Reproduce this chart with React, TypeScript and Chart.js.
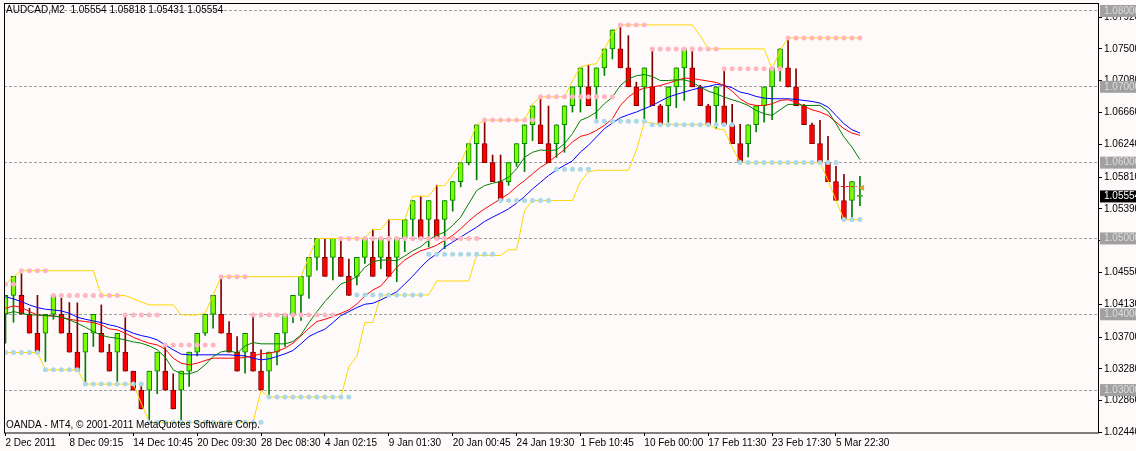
import { useEffect, useRef } from "react";
import { Chart, registerables } from "chart.js";

Chart.register(...registerables);

// bar-axis labels (every 8th bar)
const timeLabels = [
  "2 Dec 2011", "8 Dec 09:15", "14 Dec 10:45", "20 Dec 09:30", "28 Dec 08:30",
  "4 Jan 02:15", "9 Jan 01:30", "20 Jan 00:45", "24 Jan 19:30", "1 Feb 10:45",
  "10 Feb 00:00", "17 Feb 11:30", "23 Feb 17:30", "5 Mar 22:30",
];
const timeLabelBars = [0, 8, 16, 24, 32, 40, 48, 56, 64, 72, 80, 88, 96, 104];

const opens = [
  1.04, 1.0425, 1.0425, 1.04, 1.0375, 1.0375, 1.04, 1.04, 1.0375, 1.035,
  1.035, 1.0375, 1.0375, 1.035, 1.035, 1.035, 1.0325, 1.03, 1.03, 1.0325,
  1.0325, 1.03, 1.03, 1.0325, 1.035, 1.0375, 1.04, 1.04, 1.0375, 1.035,
  1.035, 1.035, 1.0325, 1.0325, 1.035, 1.0375, 1.04, 1.0425, 1.045, 1.0475,
  1.0475, 1.0475, 1.0475, 1.045, 1.045, 1.0475, 1.0475, 1.0475, 1.0475, 1.0475,
  1.05, 1.0525, 1.0525, 1.0525, 1.0525, 1.0525, 1.055, 1.0575, 1.06, 1.0625,
  1.0625, 1.06, 1.0575, 1.0575, 1.06, 1.0625, 1.065, 1.065, 1.0625, 1.0625,
  1.065, 1.0675, 1.07, 1.07, 1.07, 1.0725, 1.075, 1.075, 1.0725, 1.07,
  1.07, 1.07, 1.0675, 1.0675, 1.07, 1.0725, 1.0725, 1.07, 1.0675, 1.0675,
  1.0675, 1.065, 1.0625, 1.0625, 1.065, 1.0675, 1.07, 1.0725, 1.0725, 1.07,
  1.0675, 1.065, 1.0625, 1.06, 1.0575, 1.055, 1.055, 1.05554,
];
const highs = [
  1.0425, 1.045, 1.04535, 1.04079, 1.0425, 1.04, 1.0425, 1.04211, 1.04154, 1.0415,
  1.0375, 1.04, 1.04123, 1.03605, 1.0375, 1.03991, 1.0325, 1.031, 1.0325, 1.035,
  1.03596, 1.03215, 1.0325, 1.035, 1.0375, 1.04, 1.0425, 1.04474, 1.03904, 1.03706,
  1.0375, 1.03991, 1.0353, 1.035, 1.0375, 1.04, 1.0425, 1.045, 1.0475, 1.05,
  1.05, 1.05, 1.05, 1.04728, 1.0475, 1.05, 1.05118, 1.05, 1.0525, 1.05,
  1.0525, 1.055, 1.05557, 1.055, 1.05702, 1.055, 1.0575, 1.06, 1.0625, 1.065,
  1.06553, 1.061, 1.061, 1.06, 1.0625, 1.065, 1.0675, 1.06838, 1.06746, 1.065,
  1.0675, 1.07, 1.0725, 1.07281, 1.0725, 1.075, 1.0775, 1.07785, 1.07675, 1.07061,
  1.0725, 1.07478, 1.06768, 1.07, 1.0725, 1.075, 1.07522, 1.0702, 1.0677, 1.07,
  1.07206, 1.06768, 1.06504, 1.065, 1.0675, 1.07, 1.0725, 1.075, 1.07632, 1.07237,
  1.0677, 1.0652, 1.06557, 1.06346, 1.05952, 1.05846, 1.0575, 1.05818,
];
const lows = [
  1.03618, 1.03895, 1.04, 1.0375, 1.035, 1.03377, 1.03934, 1.0375, 1.035, 1.0325,
  1.03092, 1.03575, 1.035, 1.0325, 1.03114, 1.0325, 1.03, 1.0275, 1.02566, 1.02952,
  1.03, 1.0275, 1.02566, 1.03048, 1.0345, 1.0372, 1.03816, 1.0375, 1.035, 1.0325,
  1.03224, 1.0325, 1.03, 1.02939, 1.03333, 1.03575, 1.0389, 1.0392, 1.0421, 1.04583,
  1.045, 1.04452, 1.045, 1.0425, 1.04386, 1.04671, 1.045, 1.046, 1.045, 1.0443,
  1.04825, 1.04974, 1.05, 1.04886, 1.05, 1.04864, 1.0536, 1.0568, 1.0597, 1.05772,
  1.06, 1.0575, 1.055, 1.057, 1.0595, 1.05882, 1.0629, 1.0625, 1.06, 1.0607,
  1.06136, 1.06667, 1.06667, 1.0675, 1.06579, 1.0715, 1.07368, 1.0725, 1.07, 1.0675,
  1.06579, 1.0675, 1.065, 1.06513, 1.06724, 1.0682, 1.07, 1.0675, 1.065, 1.06447,
  1.065, 1.0625, 1.06, 1.06075, 1.06404, 1.06535, 1.06566, 1.07075, 1.07, 1.0675,
  1.065, 1.0625, 1.06, 1.0575, 1.055, 1.0525, 1.0525, 1.05431,
];
const closes = [
  1.0425, 1.045, 1.04, 1.0375, 1.035, 1.04, 1.0425, 1.0375, 1.035, 1.0325,
  1.0375, 1.04, 1.035, 1.0325, 1.0375, 1.0325, 1.03, 1.0275, 1.0325, 1.035,
  1.03, 1.0275, 1.0325, 1.035, 1.0375, 1.04, 1.0425, 1.0375, 1.035, 1.0325,
  1.0375, 1.0325, 1.03, 1.035, 1.0375, 1.04, 1.0425, 1.045, 1.0475, 1.05,
  1.045, 1.05, 1.045, 1.0425, 1.0475, 1.05, 1.045, 1.05, 1.045, 1.05,
  1.0525, 1.055, 1.05, 1.055, 1.05, 1.055, 1.0575, 1.06, 1.0625, 1.065,
  1.06, 1.0575, 1.055, 1.06, 1.0625, 1.065, 1.0675, 1.0625, 1.06, 1.065,
  1.0675, 1.07, 1.0725, 1.0675, 1.0725, 1.075, 1.0775, 1.0725, 1.07, 1.0675,
  1.0725, 1.0675, 1.065, 1.07, 1.0725, 1.075, 1.07, 1.0675, 1.065, 1.07,
  1.065, 1.0625, 1.06, 1.065, 1.0675, 1.07, 1.0725, 1.075, 1.07, 1.0675,
  1.065, 1.0625, 1.06, 1.0575, 1.055, 1.0525, 1.0575, 1.05554,
];

// moving averages as drawn
const greenMa = [
  1.04004, 1.04035, 1.04013, 1.03991, 1.03991, 1.03982, 1.03978, 1.03961, 1.03925, 1.03882,
  1.03829, 1.03772, 1.03724, 1.03697, 1.03684, 1.03662, 1.03636, 1.03618, 1.03583, 1.03531,
  1.03434, 1.03268, 1.03215, 1.03215, 1.03246, 1.03333, 1.03443, 1.03504, 1.03522, 1.03487,
  1.03583, 1.03627, 1.0361, 1.0361, 1.0361, 1.0361, 1.0364, 1.03728, 1.0389, 1.04035,
  1.04167, 1.04285, 1.04399, 1.04439, 1.04496, 1.04618, 1.04693, 1.04715, 1.04715, 1.04706,
  1.04768, 1.04838, 1.0489, 1.04978, 1.05044, 1.05083, 1.05171, 1.05281, 1.05456, 1.05632,
  1.05697, 1.05728, 1.05754, 1.05807, 1.05917, 1.0607, 1.06136, 1.06167, 1.06158, 1.06167,
  1.0625, 1.06382, 1.06557, 1.06601, 1.06667, 1.06776, 1.06864, 1.07018, 1.07105, 1.07145,
  1.07162, 1.07136, 1.07083, 1.07083, 1.07092, 1.07092, 1.07061, 1.06996, 1.06943, 1.06908,
  1.06864, 1.06829, 1.06798, 1.06754, 1.06689, 1.06645, 1.06623, 1.06697, 1.06768, 1.06768,
  1.06754, 1.06754, 1.06754, 1.0668, 1.06513, 1.06338, 1.06206, 1.0604,
];
const redMa = [
  1.04079, 1.0411, 1.04092, 1.04035, 1.03991, 1.03982, 1.03978, 1.03961, 1.03934, 1.03917,
  1.03904, 1.0389, 1.0386, 1.03807, 1.03794, 1.0375, 1.03697, 1.03654, 1.03618, 1.03596,
  1.0354, 1.03421, 1.03355, 1.03333, 1.03355, 1.0339, 1.03421, 1.03421, 1.03421, 1.03421,
  1.0343, 1.03452, 1.03478, 1.03487, 1.03509, 1.03553, 1.03618, 1.03715, 1.03816, 1.03904,
  1.03934, 1.03969, 1.04013, 1.04057, 1.04136, 1.04241, 1.0432, 1.04373, 1.04496, 1.04618,
  1.04715, 1.04781, 1.04838, 1.04868, 1.04912, 1.04974, 1.0504, 1.05127, 1.05228, 1.05316,
  1.0539, 1.05456, 1.05522, 1.05588, 1.05684, 1.05763, 1.05851, 1.05939, 1.06004, 1.06092,
  1.06171, 1.06272, 1.06346, 1.06373, 1.06425, 1.06491, 1.06579, 1.06754, 1.06864, 1.06943,
  1.06982, 1.06996, 1.07018, 1.07048, 1.07083, 1.07114, 1.0711, 1.07092, 1.07075, 1.07057,
  1.07018, 1.06943, 1.06842, 1.06776, 1.06754, 1.06754, 1.06776, 1.0682, 1.06829, 1.06798,
  1.06741, 1.06697, 1.06667, 1.06623, 1.06535, 1.06447, 1.0639, 1.0636,
];
const blueMa = [
  1.04232, 1.04202, 1.04167, 1.04123, 1.04088, 1.04066, 1.04057, 1.04044, 1.04013, 1.03961,
  1.03934, 1.03912, 1.0389, 1.0386, 1.03838, 1.03794, 1.0375, 1.03719, 1.03697, 1.03662,
  1.03596, 1.03531, 1.03474, 1.03465, 1.03465, 1.03465, 1.03465, 1.03465, 1.03465, 1.03456,
  1.03452, 1.03421, 1.03399, 1.03412, 1.03443, 1.03478, 1.03522, 1.0361, 1.03706, 1.03759,
  1.03803, 1.0389, 1.03982, 1.04035, 1.04088, 1.04132, 1.04145, 1.04189, 1.04241, 1.04298,
  1.04399, 1.04504, 1.04618, 1.04724, 1.04794, 1.04886, 1.04952, 1.05018, 1.05083, 1.05149,
  1.05224, 1.05281, 1.05333, 1.0539, 1.05465, 1.05553, 1.05653, 1.05741, 1.05829, 1.05903,
  1.05965, 1.06022, 1.0614, 1.06228, 1.06338, 1.06447, 1.06522, 1.06592, 1.06632, 1.06667,
  1.06711, 1.06754, 1.06811, 1.06864, 1.06899, 1.0693, 1.06961, 1.06987, 1.07004, 1.07031,
  1.07018, 1.06987, 1.0693, 1.06908, 1.06873, 1.06851, 1.06842, 1.06842, 1.06842, 1.06833,
  1.0682, 1.06807, 1.06785, 1.06732, 1.06623, 1.06513, 1.06434, 1.0639,
];

// yellow channel lines
const upperBand = [
  1.04395, 1.04493, 1.04575, 1.04575, 1.04575, 1.04575, 1.04575, 1.04575, 1.04575, 1.04575,
  1.04575, 1.04575, 1.04246, 1.04246, 1.04246, 1.04246, 1.04206, 1.04162, 1.04123, 1.04123,
  1.04123, 1.04123, 1.03991, 1.03991, 1.03991, 1.04013, 1.04254, 1.04496, 1.04496, 1.04496,
  1.04496, 1.04496, 1.04496, 1.04496, 1.04496, 1.04496, 1.04496, 1.04496, 1.04759, 1.05,
  1.05, 1.05, 1.05, 1.05, 1.05, 1.05, 1.05118, 1.05118, 1.0525, 1.0525,
  1.0525, 1.05557, 1.05557, 1.05557, 1.05695, 1.05695, 1.05842, 1.05996, 1.06246, 1.06496,
  1.06561, 1.06561, 1.06561, 1.06561, 1.06561, 1.06561, 1.06772, 1.06868, 1.06868, 1.06868,
  1.06868, 1.07079, 1.0726, 1.07294, 1.07303, 1.075, 1.07697, 1.07816, 1.07816, 1.07816,
  1.07816, 1.07816, 1.07816, 1.07816, 1.07816, 1.07816, 1.07816, 1.07675, 1.075, 1.075,
  1.075, 1.075, 1.075, 1.075, 1.075, 1.075, 1.07237, 1.07478, 1.07645, 1.07645,
  1.07645, 1.07645, 1.07645, 1.07645, 1.07645, 1.07645, 1.07645, 1.07645,
];
const lowerBand = [
  1.03496, 1.03496, 1.03496, 1.03496, 1.03496, 1.03268, 1.03268, 1.03268, 1.03268, 1.03268,
  1.03079, 1.03079, 1.03079, 1.03079, 1.03079, 1.03079, 1.03079, 1.02829, 1.02575, 1.02575,
  1.02575, 1.02575, 1.02575, 1.02575, 1.02575, 1.02575, 1.02575, 1.02575, 1.02575, 1.02575,
  1.02575, 1.02575, 1.02994, 1.02908, 1.02908, 1.02908, 1.02908, 1.02908, 1.02908, 1.02908,
  1.02908, 1.02908, 1.02908, 1.03311, 1.03443, 1.0389, 1.0389, 1.04254, 1.04254, 1.04254,
  1.04254, 1.04254, 1.04254, 1.04254, 1.04439, 1.04439, 1.04439, 1.04439, 1.04439, 1.04776,
  1.04776, 1.04776, 1.04776, 1.04851, 1.04851, 1.05368, 1.055, 1.055, 1.055, 1.055,
  1.055, 1.055, 1.0575, 1.05877, 1.05899, 1.05899, 1.05899, 1.05899, 1.05899, 1.06162,
  1.06535, 1.06522, 1.06504, 1.06504, 1.06504, 1.06504, 1.06504, 1.06504, 1.06504, 1.06447,
  1.06434, 1.06206, 1.06, 1.06, 1.06, 1.06, 1.06, 1.06, 1.06, 1.06,
  1.06, 1.06, 1.06, 1.05768, 1.05504, 1.0525, 1.0525, 1.0525,
];

// dotted resistance / support levels
const upperDots = [
  1.04395, 1.04395, 1.04575, 1.04575, 1.04575, 1.04575, 1.04246, 1.04246, 1.04246, 1.04246,
  1.04246, 1.04246, 1.04246, 1.04246, 1.04246, 1.03991, 1.03991, 1.03991, 1.03991, 1.03991,
  1.03596, 1.03596, 1.03596, 1.03596, 1.03596, 1.03596, 1.03596, 1.04496, 1.04496, 1.04496,
  1.04496, 1.03991, 1.03991, 1.03991, 1.03991, 1.03991, 1.03991, 1.03991, 1.03991, 1.03991,
  1.03991, 1.03991, 1.05, 1.05, 1.05, 1.05, 1.05, 1.05, 1.05, 1.05,
  1.05, 1.05, 1.05, 1.05, 1.05, 1.05, 1.05, 1.05, 1.05, 1.05,
  1.06561, 1.06561, 1.06561, 1.06561, 1.06561, 1.06561, 1.06561, 1.06868, 1.06868, 1.06868,
  1.06868, 1.06868, 1.06868, 1.06868, 1.06868, 1.06868, 1.06868, 1.07816, 1.07816, 1.07816,
  1.07816, 1.075, 1.075, 1.075, 1.075, 1.075, 1.075, 1.075, 1.075, 1.075,
  1.07237, 1.07237, 1.07237, 1.07237, 1.07237, 1.07237, 1.07237, 1.07237, 1.07645, 1.07645,
  1.07645, 1.07645, 1.07645, 1.07645, 1.07645, 1.07645, 1.07645, 1.07645,
];
const lowerDots = [
  1.03496, 1.03496, 1.03496, 1.03496, 1.03496, 1.03268, 1.03268, 1.03268, 1.03268, 1.03268,
  1.03079, 1.03079, 1.03079, 1.03079, 1.03079, 1.03079, 1.03079, 1.03079, 1.02575, 1.02575,
  1.02575, 1.02575, 1.02575, 1.02575, 1.02575, 1.02575, 1.02575, 1.02575, 1.02575, 1.02575,
  1.02575, 1.02575, 1.02575, 1.02908, 1.02908, 1.02908, 1.02908, 1.02908, 1.02908, 1.02908,
  1.02908, 1.02908, 1.02908, 1.02908, 1.04254, 1.04254, 1.04254, 1.04254, 1.04254, 1.04254,
  1.04254, 1.04254, 1.04254, 1.0479, 1.0479, 1.0479, 1.0479, 1.0479, 1.0479, 1.0479,
  1.0479, 1.0479, 1.055, 1.055, 1.055, 1.055, 1.055, 1.055, 1.055, 1.05912,
  1.05912, 1.05912, 1.05912, 1.05912, 1.06544, 1.06544, 1.06544, 1.06544, 1.06544, 1.06544,
  1.06544, 1.065, 1.065, 1.065, 1.065, 1.065, 1.065, 1.065, 1.065, 1.065,
  1.065, 1.065, 1.06, 1.06, 1.06, 1.06, 1.06, 1.06, 1.06, 1.06,
  1.06, 1.06, 1.06, 1.06, 1.06, 1.0525, 1.0525, 1.0525,
];

// price axis
const priceTicks = [
  1.0244, 1.0286, 1.0328, 1.037, 1.0413, 1.0455, 1.0497, 1.0539,
  1.0581, 1.0624, 1.0666, 1.0708, 1.075, 1.0792,
];
const levelLines = [1.03, 1.04, 1.05, 1.06, 1.07, 1.08];
const lastPrice = closes[closes.length - 1];

// trade marks
const tradeLineBars = [104.6, 106.6];
const tradeLinePrice = 1.05684;
const sellMarkBar = 104;
const sellMarkPrice = 1.05697;
const closeMarkBar = 107.3;
const closeMarkPrice = 1.05667;

const symbolText = "AUDCAD,M2";
const footerText = "OANDA - MT4, \u00a9 2001-2011 MetaQuotes Software Corp.";

const FONT = "Liberation Sans";
const same = (a: number, b: number) => Math.abs(a - b) < 1e-7;
const tickKind = (v: number) =>
  same(v, lastPrice) ? "last" : levelLines.some((l) => same(l, v)) ? "level" : "plain";

const bars = opens.map((_, i) => i);
const isUp = (i: number) => closes[i] >= opens[i];
const pts = (arr: number[]) => arr.map((y, x) => ({ x, y }));

const framePlugin = {
  id: "mtFrame",
  afterDraw(chart: Chart) {
    const { ctx, chartArea } = chart;
    ctx.save();
    ctx.strokeStyle = "#000";
    ctx.lineWidth = 1;
    ctx.strokeRect(
      Math.round(chartArea.left) + 0.5,
      Math.round(chartArea.top) - 0.5,
      Math.round(chartArea.width) - 1,
      Math.round(chartArea.height) + 0.5
    );
    ctx.fillStyle = "#000";
    ctx.font = `10px "${FONT}"`;
    ctx.textBaseline = "middle";
    const last = opens.length - 1;
    const ohlc = [opens[last], highs[last], lows[last], closes[last]].map((v) => v.toFixed(5)).join(" ");
    ctx.fillText(`${symbolText}  ${ohlc}`, 6, 10);
    ctx.fillText(footerText, 6, 425.5);
    ctx.restore();
  },
};

export default function App() {
  const canvasRef = useRef<HTMLCanvasElement>(null);
  const chartRef = useRef<Chart | null>(null);

  useEffect(() => {
    if (!canvasRef.current) return;
    if (chartRef.current) chartRef.current.destroy();

    chartRef.current = new Chart(canvasRef.current, {
      type: "bar",
      data: {
        datasets: [
          {
            type: "line",
            label: "resistance",
            data: pts(upperDots),
            showLine: false,
            pointRadius: 2.5,
            pointBorderWidth: 0,
            pointBackgroundColor: "#ffb6c1",
            order: 1,
          },
          {
            type: "line",
            label: "support",
            data: pts(lowerDots),
            showLine: false,
            pointRadius: 2.5,
            pointBorderWidth: 0,
            pointBackgroundColor: "#add8e6",
            order: 1,
          },
          {
            type: "line",
            label: "trade",
            data: tradeLineBars.map((x) => ({ x, y: tradeLinePrice })),
            borderColor: "#ff0000",
            borderWidth: 1,
            borderDash: [3, 2],
            pointRadius: 0,
            order: 0,
          },
          {
            type: "line",
            label: "sell",
            data: [{ x: sellMarkBar, y: sellMarkPrice }],
            showLine: false,
            pointStyle: "triangle",
            pointRotation: 90,
            pointRadius: 3.5,
            pointBorderWidth: 0,
            pointBackgroundColor: "#ff0000",
            order: 0,
          },
          {
            type: "line",
            label: "close",
            data: [{ x: closeMarkBar, y: closeMarkPrice }],
            showLine: false,
            pointStyle: "triangle",
            pointRotation: -90,
            pointRadius: 3.5,
            pointBorderWidth: 0,
            pointBackgroundColor: "#e0a030",
            order: 0,
          },
          {
            type: "line",
            label: "fast",
            data: pts(greenMa),
            borderColor: "#008000",
            borderWidth: 1,
            pointRadius: 0,
            order: 2,
          },
          {
            type: "line",
            label: "mid",
            data: pts(redMa),
            borderColor: "#ff0000",
            borderWidth: 1,
            pointRadius: 0,
            order: 2,
          },
          {
            type: "line",
            label: "slow",
            data: pts(blueMa),
            borderColor: "#0000ff",
            borderWidth: 1,
            pointRadius: 0,
            order: 2,
          },
          {
            type: "line",
            label: "upper",
            data: pts(upperBand),
            borderColor: "#ffd700",
            borderWidth: 1,
            pointRadius: 0,
            order: 3,
          },
          {
            type: "line",
            label: "lower",
            data: pts(lowerBand),
            borderColor: "#ffd700",
            borderWidth: 1,
            pointRadius: 0,
            order: 3,
          },
          {
            type: "bar",
            label: "body",
            data: bars.map((i) => ({ x: i, y: [opens[i], closes[i]] })) as any,
            backgroundColor: bars.map((i) => (isUp(i) ? "#7cfc00" : "#ff0000")),
            borderColor: bars.map((i) => (isUp(i) ? "#008000" : "#800000")),
            borderWidth: 1,
            borderSkipped: false,
            barThickness: 5,
            minBarLength: 1,
            grouped: false,
            order: 4,
          },
          {
            type: "bar",
            label: "wick",
            data: bars.map((i) => ({ x: i, y: [lows[i], highs[i]] })) as any,
            backgroundColor: bars.map((i) => (isUp(i) ? "#008000" : "#800000")),
            borderWidth: 0,
            barThickness: 1,
            grouped: false,
            order: 5,
          },
        ],
      },
      options: {
        responsive: true,
        maintainAspectRatio: false,
        animation: false,
        layout: { padding: { left: 2, top: 3, right: 0, bottom: 0 } },
        plugins: {
          legend: { display: false },
          tooltip: { enabled: false },
        },
        scales: {
          x: {
            type: "linear",
            offset: false,
            min: -0.1875,
            max: 136.9375,
            afterBuildTicks: (axis: any) => {
              axis.ticks = timeLabelBars.map((value) => ({ value }));
            },
            afterFit: (axis: any) => {
              axis.height = 18;
              axis.paddingLeft = 0;
              axis.paddingRight = 0;
            },
            grid: {
              offset: false,
              drawOnChartArea: false,
              drawTicks: true,
              tickLength: 3,
              color: "#000",
            },
            border: { display: false },
            ticks: {
              autoSkip: false,
              maxRotation: 0,
              minRotation: 0,
              align: "start",
              padding: 1,
              color: "#000",
              font: { family: FONT, size: 10 },
              callback: (value: any) => timeLabels[timeLabelBars.indexOf(Number(value))] ?? "",
            },
          },
          y: {
            type: "linear",
            position: "right",
            min: 1.02434,
            max: 1.08092,
            afterBuildTicks: (axis: any) => {
              axis.ticks = [...priceTicks, ...levelLines, lastPrice].map((value) => ({ value }));
            },
            afterFit: (axis: any) => {
              axis.width = 37;
              axis.paddingTop = 0;
              axis.paddingBottom = 0;
            },
            grid: {
              drawTicks: true,
              tickLength: 3,
              color: (c: any) => (tickKind(c.tick?.value) === "level" ? "#a0a0a0" : "rgba(0,0,0,0)"),
              tickColor: (c: any) => (tickKind(c.tick?.value) === "plain" ? "#000" : "rgba(0,0,0,0)"),
            },
            border: { display: false, dash: [3, 2] },
            ticks: {
              autoSkip: false,
              padding: 2,
              font: { family: FONT, size: 10 },
              color: (c: any) => {
                const k = tickKind(c.tick?.value);
                return k === "last" ? "#ffffff" : k === "level" ? "#dcdcdc" : "#000";
              },
              showLabelBackdrop: (c: any) => tickKind(c.tick?.value) !== "plain",
              backdropColor: (c: any) => (tickKind(c.tick?.value) === "last" ? "#000" : "#a0a0a0"),
              backdropPadding: { left: 4, right: 8, top: 0, bottom: 0 },
              callback: (value: any) => Number(value).toFixed(5),
            },
          },
        },
      },
      plugins: [framePlugin],
    });

    return () => {
      if (chartRef.current) {
        chartRef.current.destroy();
        chartRef.current = null;
      }
    };
  }, []);

  return (
    <div
      style={{
        position: "fixed",
        left: 0,
        top: 0,
        width: 1136,
        height: 451,
        background: "#fffafa",
      }}
    >
      <canvas ref={canvasRef}></canvas>
    </div>
  );
}
